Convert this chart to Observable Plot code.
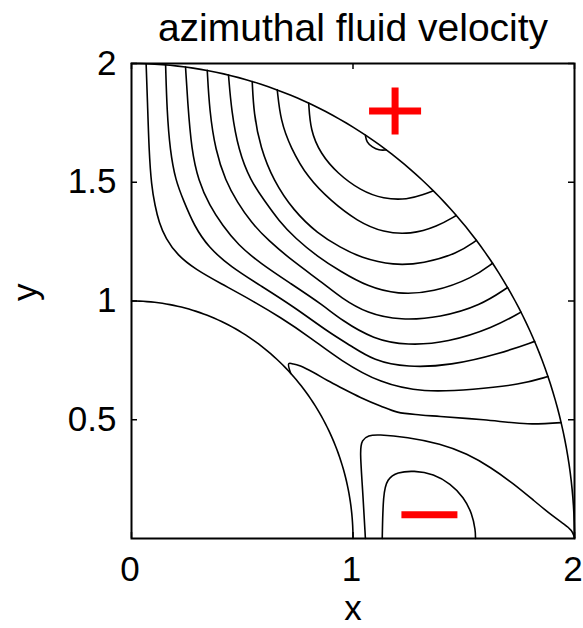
<!DOCTYPE html>
<html>
<head>
<meta charset="utf-8">
<script src="https://cdn.jsdelivr.net/npm/d3@7"></script>
<script src="https://cdn.jsdelivr.net/npm/@observablehq/plot@0.6"></script>
<style>
  html, body { margin: 0; padding: 0; background: #fff; }
</style>
</head>
<body>
<div id="chart"></div>
<script>
// Iso-lines of the azimuthal fluid velocity in the quarter shell 1 <= r <= 2.
// Each line is a list of [x, y] points, from the outermost band inward.
const contour1 = [[0.066,1.999],[0.072,1.844],[0.079,1.634],[0.090,1.486],[0.106,1.402],[0.124,1.331],[0.154,1.263],[0.208,1.192],[0.289,1.133],[0.402,1.074],[0.537,1.006],[0.673,0.931],[0.808,0.846],[0.944,0.749],[1.124,0.653],[1.318,0.615],[1.544,0.627],[1.756,0.648],[1.880,0.682]];
const contour2 = [[0.154,1.994],[0.160,1.802],[0.174,1.634],[0.199,1.507],[0.235,1.423],[0.282,1.318],[0.348,1.225],[0.447,1.145],[0.582,1.065],[0.731,0.977],[0.898,0.863],[0.989,0.813],[1.093,0.749],[1.246,0.720],[1.440,0.728],[1.666,0.779],[1.820,0.830]];
const contour3 = [[0.244,1.985],[0.253,1.844],[0.271,1.634],[0.302,1.507],[0.352,1.402],[0.411,1.318],[0.479,1.238],[0.582,1.158],[0.718,1.074],[0.867,0.981],[0.944,0.922],[1.093,0.838],[1.246,0.813],[1.427,0.825],[1.634,0.888],[1.758,0.953]];
const contour4 = [[0.342,1.971],[0.352,1.802],[0.379,1.634],[0.424,1.507],[0.478,1.415],[0.540,1.331],[0.617,1.255],[0.731,1.166],[0.867,1.074],[0.944,1.015],[1.065,0.947],[1.214,0.918],[1.395,0.931],[1.576,0.981],[1.698,1.057]];
const contour5 = [[0.438,1.951],[0.451,1.802],[0.483,1.634],[0.537,1.507],[0.600,1.423],[0.664,1.339],[0.740,1.263],[0.840,1.187],[0.944,1.124],[1.065,1.061],[1.201,1.027],[1.363,1.036],[1.544,1.099],[1.630,1.159]];
const contour6 = [[0.545,1.924],[0.552,1.789],[0.582,1.646],[0.641,1.507],[0.731,1.381],[0.840,1.284],[0.944,1.225],[1.034,1.183],[1.183,1.149],[1.318,1.158],[1.472,1.200],[1.557,1.255]];
const contour7 = [[0.658,1.889],[0.673,1.760],[0.718,1.646],[0.795,1.520],[0.898,1.423],[1.020,1.335],[1.138,1.288],[1.260,1.280],[1.381,1.314],[1.466,1.360]];
const contour8 = [[0.800,1.833],[0.808,1.718],[0.853,1.621],[0.930,1.537],[1.034,1.465],[1.138,1.429],[1.246,1.427],[1.318,1.448],[1.362,1.464]];
const peakLoop = [[1.056,1.698],[1.061,1.669],[1.087,1.648],[1.117,1.634],[1.150,1.636]];
// zero line leaving the inner wall with a cusp
const zeroLine = [[0.719,0.695],[0.710,0.736],[0.731,0.735],[0.763,0.726],[0.822,0.699],[0.885,0.665],[0.944,0.636],[1.034,0.594],[1.124,0.558],[1.201,0.532],[1.305,0.520],[1.395,0.514],[1.589,0.500],[1.788,0.483],[1.939,0.488]];
// negative region near the equator
const negative1 = [[1.056,0.000],[1.043,0.215],[1.031,0.371],[1.040,0.415],[1.070,0.434],[1.109,0.438],[1.245,0.427],[1.395,0.399],[1.516,0.357],[1.621,0.300],[1.726,0.230],[1.816,0.160],[1.907,0.090],[1.952,0.062],[1.990,0.034],[2.000,0.004]];
const negative2 = [[1.132,0.000],[1.136,0.188],[1.154,0.251],[1.200,0.279],[1.274,0.286],[1.365,0.272],[1.440,0.230],[1.500,0.174],[1.538,0.104],[1.553,0.034],[1.553,0.000]];

const smoothLines = [contour1, contour2, contour3, contour4, contour5, contour6, contour7, contour8, peakLoop, negative1, negative2];

// inner and outer walls of the shell
const shellRadii = [1, 2];

const xTicks = [0, 1, 2];
const yTicks = [0.5, 1, 1.5, 2];

// signs of the velocity in the two cells
const signMarkers = [
  {x: 1.19, y: 1.80, sign: "+"},
  {x: 1.345, y: 0.10, sign: "−"}
];

const contourRows = smoothLines.flatMap((pts, i) => pts.map(([x, y]) => ({line: i, x, y})));
const zeroRows = zeroLine.map(([x, y]) => ({x, y}));
const wallRows = shellRadii.flatMap(r =>
  d3.range(0, 91).map(deg => {
    const a = deg * Math.PI / 180;
    return {r, x: r * Math.cos(a), y: r * Math.sin(a)};
  })
);

const plusSymbol = {
  draw(ctx, size) {
    const r = Math.sqrt(size / Math.PI);
    ctx.moveTo(-r, 0); ctx.lineTo(r, 0);
    ctx.moveTo(0, -r * 0.9); ctx.lineTo(0, r * 0.9);
  }
};
const minusSymbol = {
  draw(ctx, size) {
    const r = Math.sqrt(size / Math.PI);
    ctx.moveTo(-r, 0); ctx.lineTo(r, 0);
  }
};

const W = 583, H = 628;
const mL = 131, mR = 9, mT = 63, mB = 90;
const innerW = W - mL - mR, innerH = H - mT - mB;
const tickLen = 6;
const font = "'Liberation Sans', Arial, Helvetica, sans-serif";
const lineW = 1.6;

const chart = Plot.plot({
  width: W,
  height: H,
  marginLeft: mL,
  marginRight: mR,
  marginTop: mT,
  marginBottom: mB,
  x: {domain: [0, 2]},
  y: {domain: [0, 2]},
  style: {fontFamily: font, background: "white", color: "black"},
  marks: [
    Plot.line(wallRows, {x: "x", y: "y", z: "r", stroke: "black", strokeWidth: lineW}),
    Plot.line(contourRows, {x: "x", y: "y", z: "line", stroke: "black", strokeWidth: lineW, curve: "basis"}),
    Plot.line(zeroRows, {x: "x", y: "y", stroke: "black", strokeWidth: lineW, curve: "catmull-rom"}),
    Plot.dot(signMarkers.filter(d => d.sign === "+"), {x: "x", y: "y", symbol: plusSymbol, r: 26, stroke: "#ff0000", fill: "none", strokeWidth: 7}),
    Plot.dot(signMarkers.filter(d => d.sign === "−"), {x: "x", y: "y", symbol: minusSymbol, r: 28, stroke: "#ff0000", fill: "none", strokeWidth: 7}),
    Plot.frame({stroke: "black", strokeWidth: 2}),
    // inward ticks on all four sides
    Plot.ruleX(xTicks, {x: d => d, insetTop: innerH - tickLen, stroke: "black", strokeWidth: 1.5}),
    Plot.ruleX(xTicks, {x: d => d, insetBottom: innerH - tickLen, stroke: "black", strokeWidth: 1.5}),
    Plot.ruleY(yTicks, {y: d => d, insetRight: innerW - tickLen, stroke: "black", strokeWidth: 1.5}),
    Plot.ruleY(yTicks, {y: d => d, insetLeft: innerW - tickLen, stroke: "black", strokeWidth: 1.5}),
    Plot.axisX(xTicks, {tickSize: 0, tickPadding: 18, fontSize: 35, dx: -1.5, label: null, tickFormat: d => String(d)}),
    Plot.axisY(yTicks, {tickSize: 0, tickPadding: 15, fontSize: 35, label: null, tickFormat: d => String(d)}),
    Plot.text(["azimuthal fluid velocity"], {frameAnchor: "top", lineAnchor: "bottom", dy: -23, fontSize: 39}),
    Plot.text(["x"], {frameAnchor: "bottom", lineAnchor: "bottom", dy: 81, fontSize: 35}),
    Plot.text(["y"], {frameAnchor: "left", dx: -106, rotate: -90, fontSize: 35})
  ]
});

document.getElementById("chart").appendChild(chart);
</script>
</body>
</html>
